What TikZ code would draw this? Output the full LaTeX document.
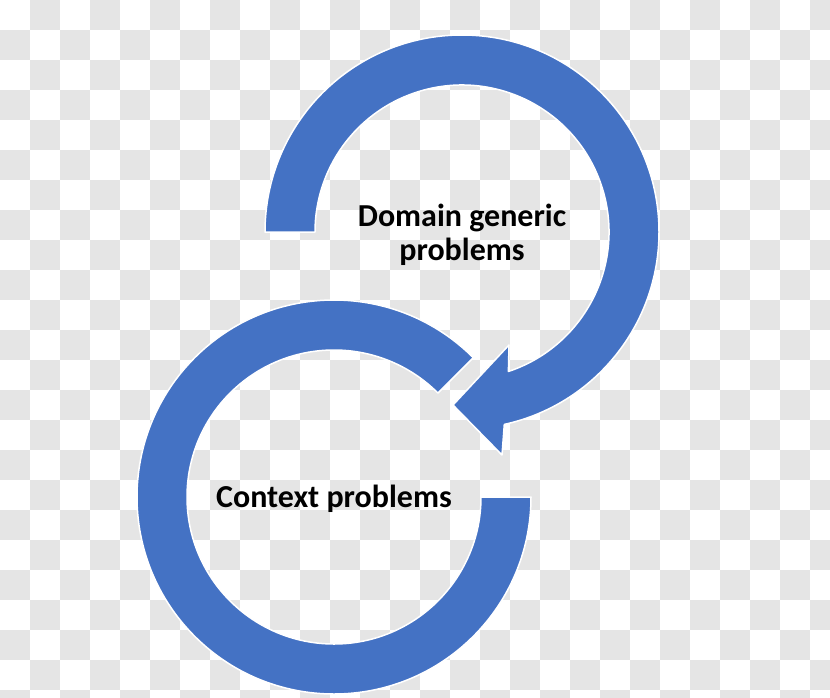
\documentclass[tikz,border=0pt]{standalone}
\usepackage{fontspec}
\setmainfont{Carlito}
\usetikzlibrary{calc}
\definecolor{cblue}{RGB}{68,114,196}
\definecolor{cgrid}{RGB}{229,229,229}

\begin{document}
\begin{tikzpicture}[
    x=1pt, y=1pt,
    every node/.style={font=\fontsize{32}{34}\selectfont\bfseries, inner sep=0pt},
    ring/.style={fill=cblue, draw=white, line width=1.5pt, line join=round},
]
    % Background squares
    \useasboundingbox (0,0) rectangle (830,-697);
    \begin{scope}
        \clip (0,0) rectangle (830,-697);
        \fill[white] (0,0) rectangle (830,-697);
        \foreach \i in {0,...,27}
            \foreach \j in {0,...,23} {
                \pgfmathtruncatemacro{\odd}{mod(\i+\j,2)}
                \ifnum\odd=1
                    \fill[cgrid] (30*\i,-30*\j) rectangle ++(30,-30);
                \fi
            }
    \end{scope}

    % Ring centres
    \coordinate (upc) at (462,-232);
    \coordinate (lowc) at (334,-497);

    % Lower ring
    \path[ring] ($(lowc)+(45:197)$) arc[start angle=45, end angle=360, radius=197]
        -- ($(lowc)+(0:147)$) arc[start angle=360, end angle=45, radius=147] -- cycle;

    % Upper ring with arrow head
    \path[ring] ($(upc)+(180:197)$) arc[start angle=180, end angle=-77.6, radius=197]
        -- (502,-455) -- (453,-405) -- (509,-345)
        -- ($(upc)+(-71.6:147)$) arc[start angle=-71.6, end angle=180, radius=147] -- cycle;

    % Labels
    \node[align=center, anchor=base] (generic) at (462,-260) {Domain generic\\problems};
    \node[anchor=base] (context) at (334,-507) {Context problems};
\end{tikzpicture}
\end{document}
